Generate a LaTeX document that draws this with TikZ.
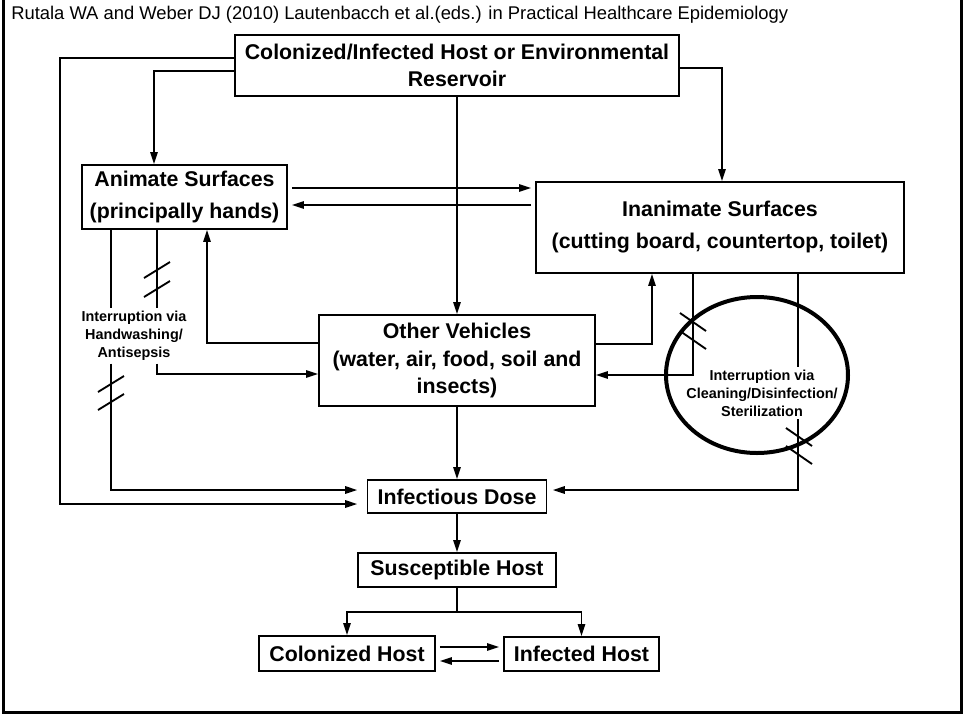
\documentclass[tikz,border=0pt]{standalone}
\usepackage{fontspec}
\setmainfont{Liberation Sans}
\usetikzlibrary{arrows.meta,calc}

\begin{document}
\begin{tikzpicture}[x=0.75pt, y=-0.75pt, every node/.style={font=\bfseries\fontsize{16}{20}\selectfont}]
\tikzset{box/.style={draw, line width=1.4pt, align=center, inner sep=0pt}}
\tikzset{arrow/.style={-{Triangle[length=9pt,width=5.5pt]}, line width=1.4pt}}
\tikzset{wire/.style={line width=1.4pt}}
\tikzset{cut/.style={line width=1.4pt}}
\tikzset{note/.style={font=\bfseries\fontsize{10.8}{13.5}\selectfont, align=center, inner sep=2pt}}
\useasboundingbox (0,0) rectangle (965,719);
\draw[line width=2.25pt] (3,0) -- (3,712) -- (961,712) -- (961,0);
\node[anchor=base west, inner sep=0pt, font=\fontsize{13.8}{16}\selectfont] (cite) at (11,19) {Rutala WA and Weber DJ (2010) Lautenbacch et al.(eds.) in Practical Healthcare Epidemiology};

% boxes
\node[box, minimum width=333pt, minimum height=45.75pt] (res) at (457,65.5) {Colonized/Infected Host or Environmental\\Reservoir};
\node[box, minimum width=153.75pt, minimum height=48pt, font=\bfseries\fontsize{16}{24}\selectfont] (anim) at (184.5,197) {Animate Surfaces\\(principally hands)};
\node[box, minimum width=276pt, minimum height=68.25pt, font=\bfseries\fontsize{16}{24}\selectfont] (inan) at (720,227.5) {Inanimate Surfaces\\(cutting board, countertop, toilet)};
\node[box, minimum width=207pt, minimum height=68.25pt, font=\bfseries\fontsize{16}{20.6}\selectfont] (oveh) at (457,360.5) {Other Vehicles\\(water, air, food, soil and\\insects)};
\node[box, minimum width=134.25pt, minimum height=24.75pt] (dose) at (457,496.5) {Infectious Dose};
\node[box, minimum width=148.5pt, minimum height=25.5pt] (susc) at (457,570) {Susceptible Host};
\node[box, minimum width=132pt, minimum height=26.25pt] (colo) at (347,653.5) {Colonized Host};
\node[box, minimum width=116.25pt, minimum height=25.5pt] (infe) at (581.5,654) {Infected Host};

% reservoir
\draw[arrow, shorten >=7pt] (res.west |- 0,58) -- (60,58) |- (dose.west |- 0,504);
\draw[arrow] (res.west |- 0,71) -| (anim.north -| 154,0);
\draw[arrow] (res.south) -- (oveh.north);
\draw[arrow] (res.east |- 0,68) -| (inan.north -| 722,0);
\draw[arrow, shorten <=3pt, shorten >=3pt] (anim.east |- 0,188) -- (inan.west |- 0,188);
\draw[arrow, shorten <=3pt, shorten >=3pt] (inan.west |- 0,205) -- (anim.east |- 0,205);

% handwashing
\node[note] (hw) at (134,336) {Interruption via\\Handwashing/\\Antisepsis};
\draw[wire] (anim.south -| 111,0) -- (hw.north -| 111,0);
\draw[wire] (anim.south -| 157,0) -- (hw.north -| 157,0);
\draw[arrow, shorten >=7pt] (hw.south -| 111,0) |- (dose.west |- 0,490);
\draw[arrow] (hw.south -| 157,0) |- (oveh.west |- 0,374);
\draw[arrow] (oveh.west |- 0,343) -| (anim.south -| 207,0);
\foreach \sx/\sy in {157/270, 157/289, 111/384, 111/402}
  \draw[cut] ({\sx-13},{\sy+8}) -- ({\sx+13},{\sy-8});

% cleaning
\node[note] (cl) at (762,393) {Interruption via\\Cleaning/Disinfection/\\Sterilization};
\draw[line width=3pt] (757,375) ellipse [x radius=68.25pt, y radius=58.5pt];
\draw[wire] (inan.south -| 798,0) -- (cl.north -| 798,0);
\draw[arrow, shorten >=4pt] (cl.south -| 798,0) |- (dose.east |- 0,490);
\draw[arrow] (inan.south -| 693,0) |- (oveh.east |- 0,375);
\draw[arrow] (oveh.east |- 0,344) -| (inan.south -| 652,0);
\foreach \sx/\sy in {693/322, 693/340, 799/437, 799/455}
  \draw[cut] ({\sx-13},{\sy-9}) -- ({\sx+13},{\sy+9});

% host
\draw[arrow] (oveh.south) -- (dose.north);
\draw[arrow] (dose.south) -- (susc.north);
\coordinate (fork) at (457,612);
\draw[wire] (susc.south) -- (fork);
\draw[arrow] (fork) -| (colo.north);
\draw[arrow] (fork) -| (infe.north);
\draw[arrow, shorten <=3pt, shorten >=3pt] (colo.east |- 0,647) -- (infe.west |- 0,647);
\draw[arrow, shorten <=3pt, shorten >=3pt] (infe.west |- 0,661) -- (colo.east |- 0,661);
\end{tikzpicture}
\end{document}
